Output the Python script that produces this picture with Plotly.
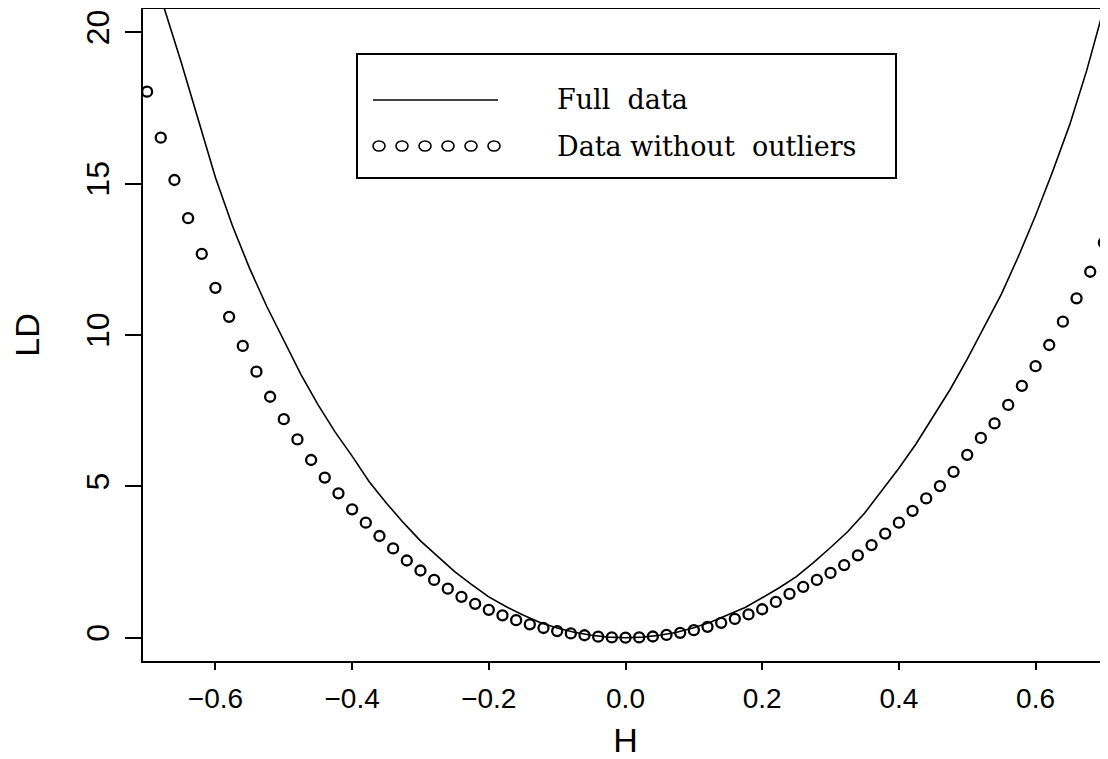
import plotly.graph_objects as go

# ---- data ----
H_full = [-0.700, -0.675, -0.650, -0.625, -0.600, -0.575, -0.550, -0.525, -0.500,
          -0.475, -0.450, -0.425, -0.400, -0.375, -0.350, -0.325, -0.300, -0.275,
          -0.250, -0.225, -0.200, -0.175, -0.150, -0.125, -0.100, -0.075, -0.050,
          -0.025, 0.000, 0.025, 0.050, 0.075, 0.100, 0.125, 0.150, 0.175, 0.200,
          0.225, 0.250, 0.275, 0.300, 0.325, 0.350, 0.375, 0.400, 0.425, 0.450,
          0.475, 0.500, 0.525, 0.550, 0.575, 0.600, 0.625, 0.650, 0.675, 0.700]
LD_full = [22.6, 20.8, 19.0, 17.1, 15.2, 13.6, 12.2, 10.95, 9.8,
           8.7, 7.7, 6.8, 6.0, 5.15, 4.45, 3.8, 3.2, 2.68,
           2.18, 1.75, 1.35, 1.03, 0.75, 0.50, 0.32, 0.18, 0.08,
           0.02, 0.0, 0.02, 0.08, 0.18, 0.33, 0.52, 0.75, 1.0, 1.32,
           1.65, 2.02, 2.48, 2.98, 3.5, 4.12, 4.85, 5.6, 6.4, 7.3,
           8.2, 9.2, 10.25, 11.35, 12.6, 13.95, 15.4, 16.95, 18.75, 20.8]

H_pts = [-0.70, -0.68, -0.66, -0.64, -0.62, -0.60, -0.58, -0.56, -0.54, -0.52,
         -0.50, -0.48, -0.46, -0.44, -0.42, -0.40, -0.38, -0.36, -0.34, -0.32,
         -0.30, -0.28, -0.26, -0.24, -0.22, -0.20, -0.18, -0.16, -0.14, -0.12,
         -0.10, -0.08, -0.06, -0.04, -0.02, 0.00, 0.02, 0.04, 0.06, 0.08,
         0.10, 0.12, 0.14, 0.16, 0.18, 0.20, 0.22, 0.24, 0.26, 0.28,
         0.30, 0.32, 0.34, 0.36, 0.38, 0.40, 0.42, 0.44, 0.46, 0.48,
         0.50, 0.52, 0.54, 0.56, 0.58, 0.60, 0.62, 0.64, 0.66, 0.68, 0.70]
LD_pts = [18.04, 16.52, 15.12, 13.86, 12.68, 11.56, 10.60, 9.64, 8.79, 7.96,
          7.22, 6.55, 5.87, 5.29, 4.77, 4.24, 3.80, 3.36, 2.95, 2.55,
          2.22, 1.91, 1.62, 1.35, 1.12, 0.92, 0.74, 0.58, 0.44, 0.32,
          0.22, 0.14, 0.08, 0.035, 0.01, 0.0, 0.01, 0.04, 0.09, 0.16,
          0.25, 0.36, 0.49, 0.62, 0.77, 0.94, 1.18, 1.45, 1.68, 1.91,
          2.14, 2.40, 2.72, 3.06, 3.44, 3.80, 4.19, 4.60, 5.01, 5.48,
          6.04, 6.60, 7.08, 7.69, 8.32, 8.97, 9.67, 10.44, 11.21, 12.09, 13.05]

x_tickvals = [-0.6, -0.4, -0.2, 0.0, 0.2, 0.4, 0.6]
x_ticktext = ["\u22120.6", "\u22120.4", "\u22120.2", "0.0", "0.2", "0.4", "0.6"]
y_tickvals = [0, 5, 10, 15, 20]
y_ticktext = ["0", "5", "10", "15", "20"]

legend_labels = ["Full\u00a0\u00a0data", "Data without\u00a0\u00a0outliers"]

# ---- figure geometry (pixels); page body has an 8px margin ----
OFF = 8
W, HGT = 1100, 751
L, R, T, B = 135, 0, 1, 98
pw, ph = W - L - R, HGT - T - B


def px_x(sx):
    return (sx - OFF - L) / pw


def px_y(sy):
    return (HGT - B - (sy - OFF)) / ph


fig = go.Figure()
fig.add_trace(go.Scatter(x=H_full, y=LD_full, mode="lines",
                         line=dict(color="black", width=1.6),
                         name=legend_labels[0], showlegend=False))
fig.add_trace(go.Scatter(x=H_pts, y=LD_pts, mode="markers",
                         marker=dict(symbol="circle-open", size=10,
                                     color="black", line=dict(color="black", width=2.3)),
                         name=legend_labels[1], showlegend=False))

shapes = []
# legend box
shapes.append(dict(type="rect", xref="paper", yref="paper",
                   x0=px_x(357), x1=px_x(896), y0=px_y(178), y1=px_y(54),
                   line=dict(color="black", width=2), fillcolor="white", layer="below"))
# legend line sample
shapes.append(dict(type="line", xref="paper", yref="paper",
                   x0=px_x(373), x1=px_x(498), y0=px_y(100), y1=px_y(100),
                   line=dict(color="black", width=1.6)))
# legend circle samples
for cx in [379, 402, 425, 448, 471, 494]:
    shapes.append(dict(type="circle", xref="paper", yref="paper",
                       x0=px_x(cx - 6), x1=px_x(cx + 6), y0=px_y(151), y1=px_y(141),
                       line=dict(color="black", width=1.6)))

annotations = [
    dict(text=legend_labels[0], xref="paper", yref="paper", x=px_x(555), y=px_y(100),
         xanchor="left", yanchor="middle", showarrow=False,
         font=dict(family="DejaVu Serif", size=27, color="black")),
    dict(text=legend_labels[1], xref="paper", yref="paper", x=px_x(555), y=px_y(146),
         xanchor="left", yanchor="middle", showarrow=False,
         font=dict(family="DejaVu Serif", size=27, color="black")),
]

fig.update_layout(
    width=W, height=HGT,
    margin=dict(l=L, r=R, t=T, b=B, autoexpand=False),
    paper_bgcolor="white", plot_bgcolor="white",
    showlegend=False,
    shapes=shapes, annotations=annotations,
    font=dict(family="Liberation Sans", color="black"),
)
fig.update_xaxes(range=[-0.706, 0.706], showgrid=False, zeroline=False,
                 showline=True, linecolor="black", linewidth=2, mirror=True,
                 ticks="outside", ticklen=7, tickwidth=2, tickcolor="black",
                 tickvals=x_tickvals, ticktext=x_ticktext,
                 tickfont=dict(family="Liberation Sans", size=28, color="black"),
                 ticklabelstandoff=4,
                 title=dict(text="H", font=dict(family="Liberation Sans", size=34, color="black"),
                            standoff=17))
fig.update_yaxes(range=[-0.77, 20.77], showgrid=False, zeroline=False,
                 showline=True, linecolor="black", linewidth=2, mirror=False,
                 ticks="outside", ticklen=16, tickwidth=2, tickcolor="black",
                 tickvals=y_tickvals, ticktext=y_ticktext, tickangle=-90,
                 tickfont=dict(family="Liberation Sans", size=32, color="black"),
                 ticklabelstandoff=3,
                 title=dict(text="LD", font=dict(family="Liberation Sans", size=34, color="black"),
                            standoff=32))

fig.write_html("out.html")
